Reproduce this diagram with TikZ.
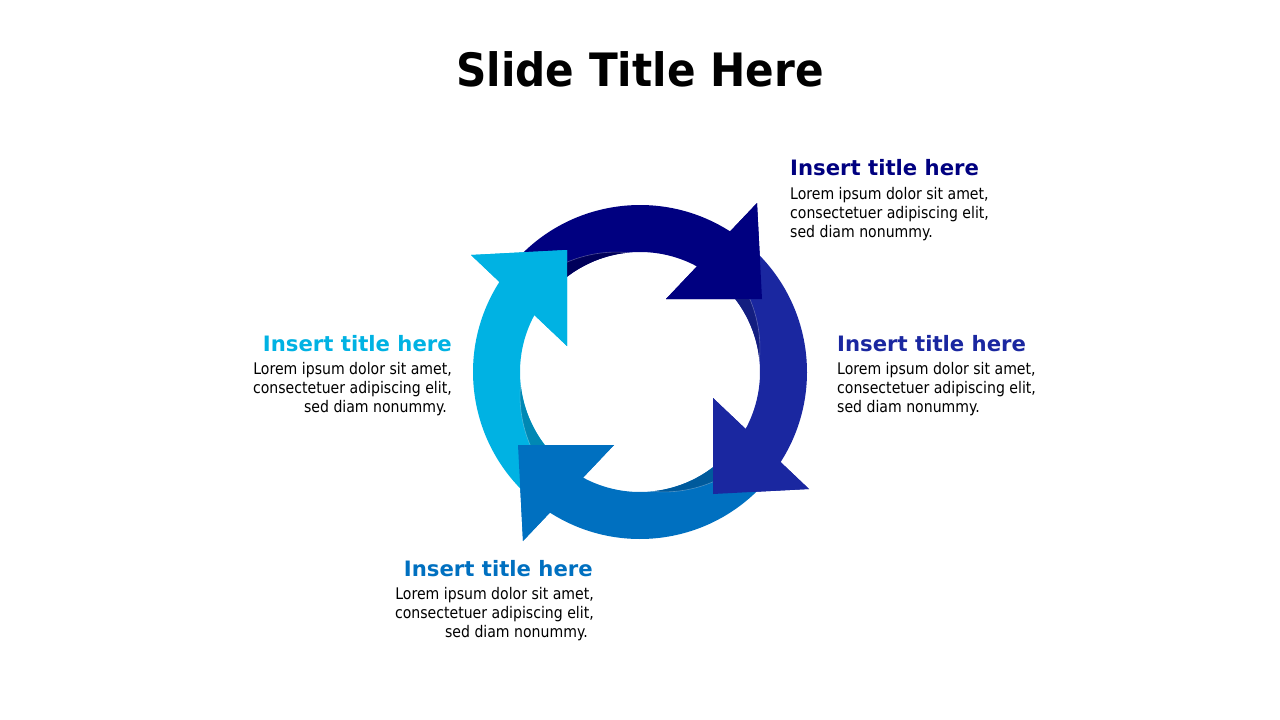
\documentclass[tikz,border=0pt]{standalone}
\usepackage{fontspec}
\setmainfont{DejaVu Sans}
\newfontfamily\bodyf{DejaVu Sans}[FakeStretch=0.88]
\newfontfamily\mainf{DejaVu Sans}[FakeStretch=0.917]
\definecolor{cNavy}{HTML}{000080}
\definecolor{cNavyD}{HTML}{00005A}
\definecolor{cRoyal}{HTML}{1A27A0}
\definecolor{cRoyalD}{HTML}{131E80}
\definecolor{cBlue}{HTML}{0070C0}
\definecolor{cBlueD}{HTML}{005A9C}
\definecolor{cSky}{HTML}{00B2E3}
\definecolor{cSkyD}{HTML}{0088B4}
\newcommand{\cycbody}[2]{%
  \begin{scope}[shift={(640,372)},x=1pt,y=1pt,rotate=#1]
    \fill[#2] (122,73) -- (26,73) -- (61.68:120)
      arc[start angle=61.68,end angle=140,radius=120] -- (140:167)
      arc[start angle=140,end angle=57.35,radius=167] -- (117,169) -- cycle;
  \end{scope}}
\newcommand{\cyccres}[2]{%
  \begin{scope}[shift={(640,372)},x=1pt,y=1pt,rotate=#1]
    \fill[#2] (96:120) arc[start angle=96,end angle=140,radius=120]
      -- plot[domain=140:96,samples=30] (\x:{120+0.43*(\x-96)}) -- cycle;
    \draw[white,opacity=0.3,line width=0.6pt] plot[domain=96:135,samples=30] (\x:{120+0.43*(\x-96)});
  \end{scope}}
\newcommand{\cychead}[2]{%
  \begin{scope}[shift={(640,372)},x=1pt,y=1pt,rotate=#1]
    \fill[#2] (122,73) -- (26,73) -- (117,169) -- cycle;
  \end{scope}}
\begin{document}
\begin{tikzpicture}[x=1pt,y=-1pt,
  body/.style={inner sep=0pt,font=\bodyf\fontsize{16}{19}\selectfont,text=black},
  lab/.style={inner sep=0pt,font=\bfseries\fontsize{21.2}{25}\selectfont}]
\useasboundingbox (0,0) rectangle (1280,720);
\fill[white] (0,0) rectangle (1280,720);
% arrows
\cycbody{0}{cNavy}
\cycbody{-90}{cRoyal}
\cycbody{-180}{cBlue}
\cycbody{90}{cSky}
\cyccres{0}{cNavyD}
\cyccres{-90}{cRoyalD}
\cyccres{-180}{cBlueD}
\cyccres{90}{cSkyD}
\cychead{0}{cNavy}
\cychead{-90}{cRoyal}
\cychead{-180}{cBlue}
\cychead{90}{cSky}
% title
\node[inner sep=0pt,anchor=base,font=\mainf\bfseries\fontsize{46}{55}\selectfont] (title) at (640,86) {Slide Title Here};
% top right
\node[lab,text=cNavy,anchor=base west] (t1) at (790,175) {Insert title here};
\node[body,anchor=base west] (t1a) at (790,199) {Lorem ipsum dolor sit amet,};
\node[body,anchor=base west] (t1b) at (790,218) {consectetuer adipiscing elit,};
\node[body,anchor=base west] (t1c) at (790,237) {sed diam nonummy.};
% right
\node[lab,text=cRoyal,anchor=base west] (t2) at (837,351) {Insert title here};
\node[body,anchor=base west] (t2a) at (837,374) {Lorem ipsum dolor sit amet,};
\node[body,anchor=base west] (t2b) at (837,393) {consectetuer adipiscing elit,};
\node[body,anchor=base west] (t2c) at (837,412) {sed diam nonummy.};
% left
\node[lab,text=cSky,anchor=base east] (t3) at (452,351) {Insert title here};
\node[body,anchor=base east] (t3a) at (452,374) {Lorem ipsum dolor sit amet,};
\node[body,anchor=base east] (t3b) at (452,393) {consectetuer adipiscing elit,};
\node[body,anchor=base east] (t3c) at (447,412) {sed diam nonummy.};
% bottom
\node[lab,text=cBlue,anchor=base east] (t4) at (593,576) {Insert title here};
\node[body,anchor=base east] (t4a) at (594,599) {Lorem ipsum dolor sit amet,};
\node[body,anchor=base east] (t4b) at (594,618) {consectetuer adipiscing elit,};
\node[body,anchor=base east] (t4c) at (588,637) {sed diam nonummy.};
\end{tikzpicture}
\end{document}
